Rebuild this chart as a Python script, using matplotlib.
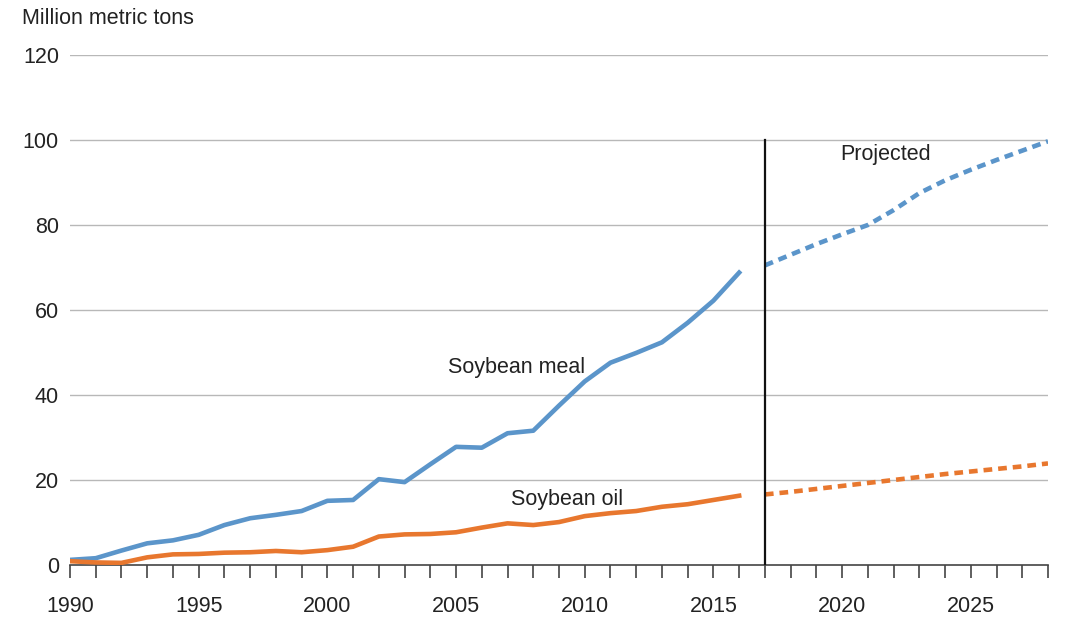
import matplotlib
matplotlib.use("Agg")
import matplotlib.pyplot as plt

plt.rcParams['font.family'] = ['Liberation Sans', 'DejaVu Sans']

years_hist = list(range(1990, 2017))
meal_hist = [1.2, 1.6, 3.4, 5.1, 5.8, 7.1, 9.4, 11.0, 11.8, 12.7, 15.1, 15.3, 20.2, 19.5,
             23.7, 27.8, 27.6, 31.0, 31.6, 37.5, 43.2, 47.6, 49.9, 52.4, 57.0, 62.2, 68.8]
oil_hist = [0.9, 0.6, 0.5, 1.8, 2.5, 2.6, 2.9, 3.0, 3.3, 3.0, 3.5, 4.3, 6.7, 7.2,
            7.3, 7.7, 8.8, 9.8, 9.4, 10.1, 11.5, 12.2, 12.7, 13.7, 14.3, 15.3, 16.3]

years_proj = list(range(2017, 2029))
meal_proj = [70.5, 73.0, 75.5, 77.8, 80.0, 83.5, 87.5, 90.5, 93.0, 95.3, 97.5, 99.7]
oil_proj = [16.6, 17.2, 17.9, 18.6, 19.3, 20.0, 20.7, 21.4, 22.0, 22.6, 23.2, 23.9]

y_ticks = [0, 20, 40, 60, 80, 100, 120]
x_label_years = [1990, 1995, 2000, 2005, 2010, 2015, 2020, 2025]

blue = '#5B95CA'
orange = '#E8772E'
txt = '#222222'
fs = 15.5

fig = plt.figure(figsize=(10.8, 6.24), dpi=100)
ax = fig.add_axes([70/1080, 1-565/624, (1048-70)/1080, (565-55)/624])

for v in y_ticks[1:]:
    ax.axhline(v, color='#b8b8b8', lw=1.0, zorder=1)

ax.plot(years_hist, meal_hist, color=blue, lw=3.3, solid_joinstyle='round', zorder=3)
ax.plot(years_hist, oil_hist, color=orange, lw=3.3, solid_joinstyle='round', zorder=3)
ax.plot(years_proj, meal_proj, color=blue, lw=3.3, linestyle=(0, (1.9, 1.3)), zorder=3)
ax.plot(years_proj, oil_proj, color=orange, lw=3.3, linestyle=(0, (1.9, 1.3)), zorder=3)

ax.plot([2017, 2017], [0, 100], color='#111111', lw=1.6, zorder=4)

ax.set_xlim(1990, 2028)
ax.set_ylim(0, 120)

for s in ['top', 'right', 'left']:
    ax.spines[s].set_visible(False)
ax.spines['bottom'].set_color('#444444')
ax.spines['bottom'].set_linewidth(1.2)

ax.set_xticks(list(range(1990, 2029)))
ax.set_xticklabels([str(y) if y in x_label_years else '' for y in range(1990, 2029)])
ax.tick_params(axis='x', direction='out', length=9, width=1.2, color='#444444',
               labelsize=fs, labelcolor=txt, pad=13)
ax.set_yticks(y_ticks)
ax.tick_params(axis='y', length=0, labelsize=fs, labelcolor=txt, pad=8)

ax.text(2021.7, 96.5, 'Projected', fontsize=fs, color=txt, ha='center', va='center')
ax.text(2007.35, 46.4, 'Soybean meal', fontsize=fs, color=txt, ha='center', va='center')
ax.text(2009.3, 15.5, 'Soybean oil', fontsize=fs, color=txt, ha='center', va='center')
fig.text(22/1080, 1-19/624, 'Million metric tons', fontsize=fs, color=txt, ha='left', va='center')

fig.savefig('out.png', dpi=100, facecolor='white')
